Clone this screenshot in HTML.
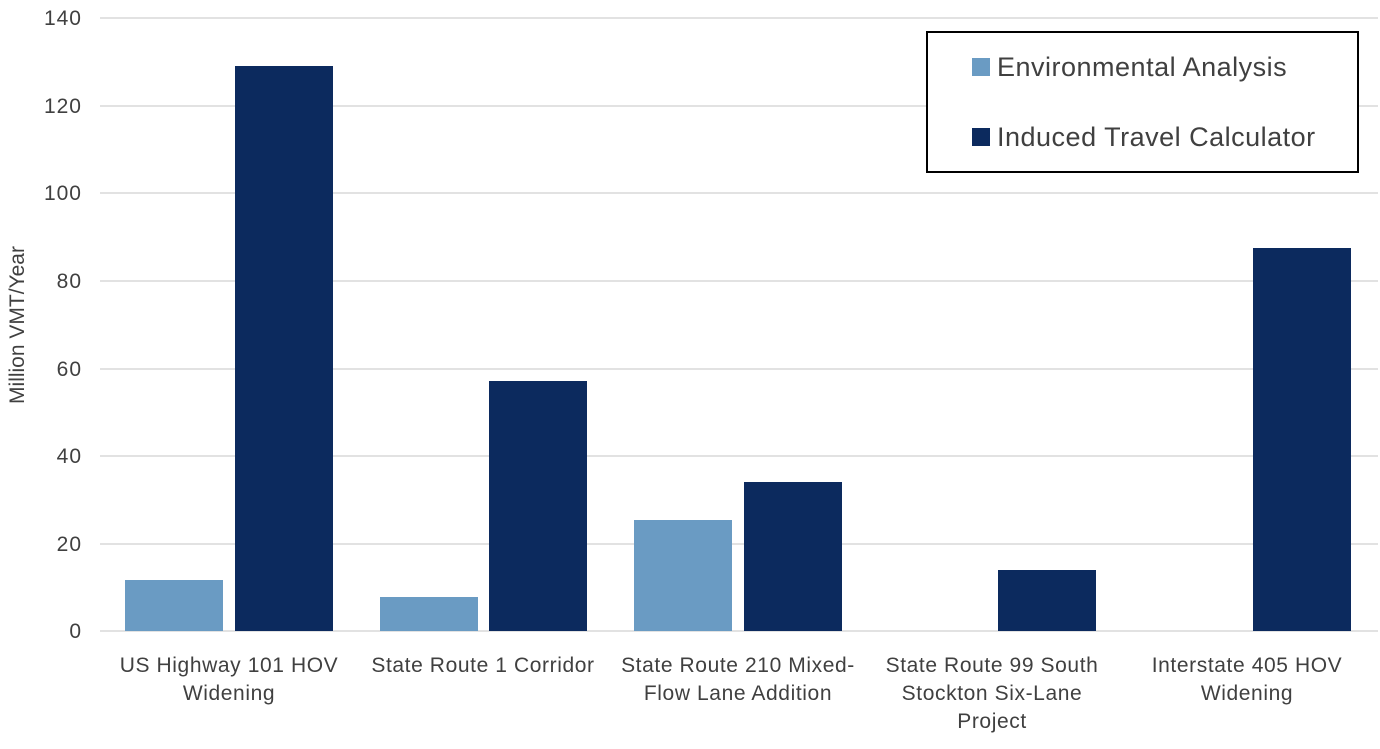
<!DOCTYPE html>
<html><head><meta charset="utf-8"><style>
body{margin:0;background:#fff;}
svg text{font-family:"Liberation Sans",sans-serif;fill:#404040;}
</style></head><body>
<svg width="1380" height="744" viewBox="0 0 1380 744" xmlns="http://www.w3.org/2000/svg">
<g stroke="#d9d9d9" stroke-width="1.5">
<line x1="100" x2="1378" y1="18" y2="18"/>
<line x1="100" x2="1378" y1="106" y2="106"/>
<line x1="100" x2="1378" y1="193" y2="193"/>
<line x1="100" x2="1378" y1="281" y2="281"/>
<line x1="100" x2="1378" y1="369" y2="369"/>
<line x1="100" x2="1378" y1="456" y2="456"/>
<line x1="100" x2="1378" y1="544" y2="544"/>
<line x1="100" x2="1378" y1="631" y2="631"/>
</g>
<g font-size="21" text-anchor="end" letter-spacing="1">
<text x="82" y="25">140</text>
<text x="82" y="113">120</text>
<text x="82" y="200">100</text>
<text x="82" y="288">80</text>
<text x="82" y="376">60</text>
<text x="82" y="463">40</text>
<text x="82" y="551">20</text>
<text x="82" y="638">0</text>
</g>
<text x="24" y="325" font-size="21" text-anchor="middle" transform="rotate(-90 24 325)">Million VMT/Year</text>
<g fill="#6A9BC3">
<rect x="125" y="580" width="98" height="51"/>
<rect x="380" y="597" width="98" height="34"/>
<rect x="634" y="520" width="98" height="111"/>
</g>
<g fill="#0C2A5E">
<rect x="235" y="66" width="98" height="565"/>
<rect x="489" y="381" width="98" height="250"/>
<rect x="744" y="482" width="98" height="149"/>
<rect x="998" y="570" width="98" height="61"/>
<rect x="1253" y="248" width="98" height="383"/>
</g>
<g font-size="21" text-anchor="middle" letter-spacing="0.6">
<text x="229" y="672">US Highway 101 HOV</text><text x="229" y="700">Widening</text>
<text x="483" y="672">State Route 1 Corridor</text>
<text x="738" y="672">State Route 210 Mixed-</text><text x="738" y="700">Flow Lane Addition</text>
<text x="992" y="672">State Route 99 South</text><text x="992" y="700">Stockton Six-Lane</text><text x="992" y="728">Project</text>
<text x="1247" y="672">Interstate 405 HOV</text><text x="1247" y="700">Widening</text>
</g>
<rect x="927" y="32" width="431" height="140" fill="#fff" stroke="#000" stroke-width="2"/>
<rect x="972" y="58" width="18" height="18" fill="#6A9BC3"/>
<rect x="972" y="128" width="18" height="18" fill="#0C2A5E"/>
<text x="997" y="76" font-size="27" letter-spacing="0.5">Environmental Analysis</text>
<text x="997" y="146" font-size="27" letter-spacing="0.5">Induced Travel Calculator</text>
</svg>
</body></html>
